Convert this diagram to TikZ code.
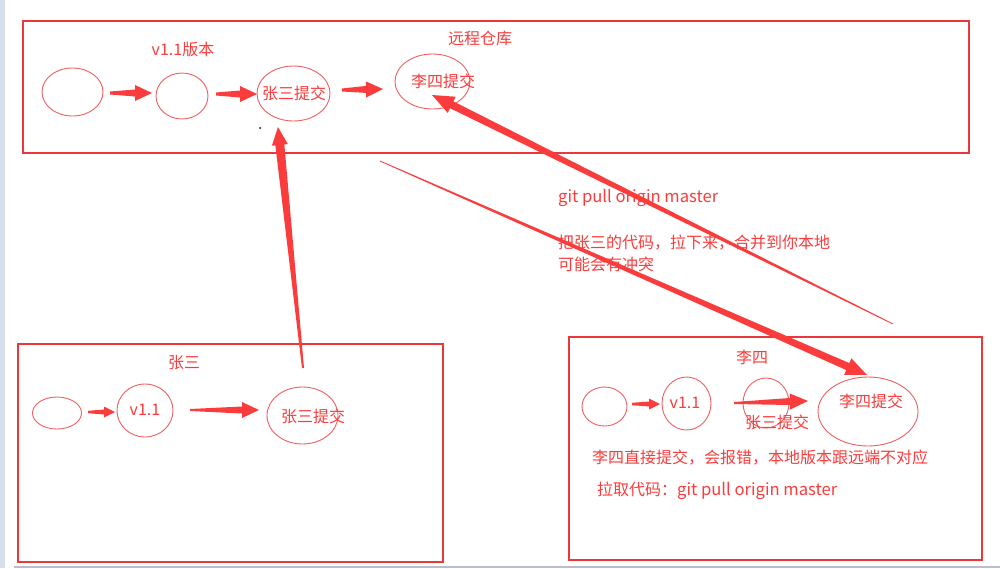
\documentclass[tikz,border=0pt]{standalone}
\usepackage{fontspec}
\setmainfont{Noto Sans CJK SC}
\usetikzlibrary{calc,arrows.meta,shapes.geometric}
\definecolor{rd}{RGB}{250,60,60}
\definecolor{rdl}{RGB}{240,95,95}
\definecolor{rdb}{RGB}{235,55,55}
\definecolor{sidestrip}{RGB}{213,222,234}
\definecolor{botstrip}{RGB}{184,190,200}
\newcommand\blockarr[6]{%
  \path ($(#2)!#6!(#1)$) coordinate (ba-n);
  \fill[rd] ($(#1)!#3!90:(#2)$) -- ($(ba-n)!#4!90:(#2)$) -- ($(ba-n)!#5!90:(#2)$) -- (#2)
    -- ($(ba-n)!#5!-90:(#2)$) -- ($(ba-n)!#4!-90:(#2)$) -- ($(#1)!#3!-90:(#2)$) -- cycle;}
\newcommand\latinbig[1]{{\fontsize{16.6}{19}\selectfont #1}}
\tikzset{
  txt/.style={text=rd, font=\fontsize{16}{19}\selectfont, inner sep=0pt},
  ell/.style={ellipse, draw=rdl, line width=0.9pt, inner sep=0pt},
  box/.style={draw=rdb, line width=1.2pt},
}
\begin{document}
\begin{tikzpicture}[x=1pt,y=-1pt]
\useasboundingbox (0,0) rectangle (1000,568);
\fill[white] (0,0) rectangle (1000,568);
\fill[sidestrip] (0,0) rectangle (5,568);
\fill[botstrip] (14,566) rectangle (1000,568);

% boxes
\draw[box] (23,21) rectangle (969,153);
\draw[box] (18,344) rectangle (443,562);
\draw[box] (569,337) rectangle (982,560);

% ---- remote repository
\node[txt] (t-ver) at (183,49) {v1.1版本};
\node[txt] (t-remote) at (480,38) {远程仓库};
\node[ell, minimum width=61pt, minimum height=48pt] (r1) at (72.5,92) {};
\node[ell, minimum width=52pt, minimum height=46pt] (r2) at (182,96) {};
\node[ell, minimum width=73pt, minimum height=55pt] (r3) at (293.5,93.5) {};
\node[ell, minimum width=75pt, minimum height=55pt] (r4) at (432.5,81.5) {};
\node[txt] (t-r3) at (294,93) {张三提交};
\node[txt] (t-r4) at (443,81) {李四提交};
\coordinate (ra1s) at (110,93);  \coordinate (ra1e) at (152,93);
\coordinate (ra2s) at (216,94);  \coordinate (ra2e) at (257,94);
\coordinate (ra3s) at (342,90);  \coordinate (ra3e) at (383,89);
\blockarr{ra1s}{ra1e}{1.5pt}{3.5pt}{8pt}{17pt}
\blockarr{ra2s}{ra2e}{1.5pt}{3.5pt}{8pt}{17pt}
\blockarr{ra3s}{ra3e}{1.5pt}{3.5pt}{8pt}{17pt}
\fill[black] (260,128) circle (1pt);

% ---- Zhang San
\node[txt] (t-zs) at (184,363) {张三};
\node[ell, minimum width=49pt, minimum height=32pt] (z1) at (57,413) {};
\node[ell, minimum width=56pt, minimum height=53pt] (z2) at (145,410.5) {};
\node[ell, minimum width=71pt, minimum height=57pt] (z3) at (302.5,415.5) {};
\node[txt] (t-z2) at (145,410) {v1.1};
\node[txt] (t-z3) at (313,416) {张三提交};
\coordinate (za1s) at (88,412);  \coordinate (za1e) at (115,412);
\coordinate (za2s) at (190,410); \coordinate (za2e) at (259,410);
\blockarr{za1s}{za1e}{1.2pt}{2.5pt}{5.5pt}{11pt}
\blockarr{za2s}{za2e}{1pt}{3.5pt}{8pt}{17pt}

% push arrow from Zhang San to remote
\coordinate (push-s) at (303,368);
\coordinate (push-e) at (278,127);
\blockarr{push-s}{push-e}{1pt}{4.5pt}{8pt}{18pt}

% ---- Li Si
\node[txt] (t-ls) at (752,357) {李四};
\node[ell, minimum width=45pt, minimum height=39pt] (l1) at (604.5,406.5) {};
\node[ell, minimum width=49pt, minimum height=53pt] (l2) at (686.5,403.5) {};
\node[ell, minimum width=46pt, minimum height=50pt] (l3) at (766,403) {};
\node[ell, minimum width=100pt, minimum height=69pt] (l4) at (868,411.5) {};
\node[txt] (t-l2) at (685,403) {v1.1};
\node[txt] (t-l3) at (777,422) {张三提交};
\node[txt] (t-l4) at (871,401) {李四提交};
\coordinate (la1s) at (632,404); \coordinate (la1e) at (660,404);
\coordinate (la2s) at (734,403); \coordinate (la2e) at (808,401);
\blockarr{la1s}{la1e}{1.2pt}{2.5pt}{5.5pt}{11pt}
\blockarr{la2s}{la2e}{1pt}{3.5pt}{8pt}{18pt}
\node[txt, anchor=west] (t-err) at (592,458) {李四直接提交，会报错，本地版本跟远端不对应};
\node[txt, anchor=west] (t-pull) at (597,491) {拉取代码：\latinbig{git pull origin master}};

% ---- middle texts
\node[txt, anchor=west, font=\fontsize{16.6}{19}\selectfont] (t-git) at (558,198) {git pull origin master};
\node[txt, anchor=west] (t-m1) at (558,243) {把张三的代码，拉下来，合并到你本地};
\node[txt, anchor=west] (t-m2) at (558,264) {可能会有冲突};

% ---- Li Si pushes to remote (tapered, tip at remote 李四提交)
\coordinate (lpush-s) at (893,324);
\coordinate (lpush-e) at (432,95);
\blockarr{lpush-s}{lpush-e}{0.4pt}{3.8pt}{9pt}{22pt}
% ---- pull from remote to Li Si (tapered, tip at local 李四提交)
\coordinate (lpull-s) at (380,161);
\coordinate (lpull-e) at (867,375);
\blockarr{lpull-s}{lpull-e}{0.4pt}{3.8pt}{9pt}{21pt}
\end{tikzpicture}
\end{document}
